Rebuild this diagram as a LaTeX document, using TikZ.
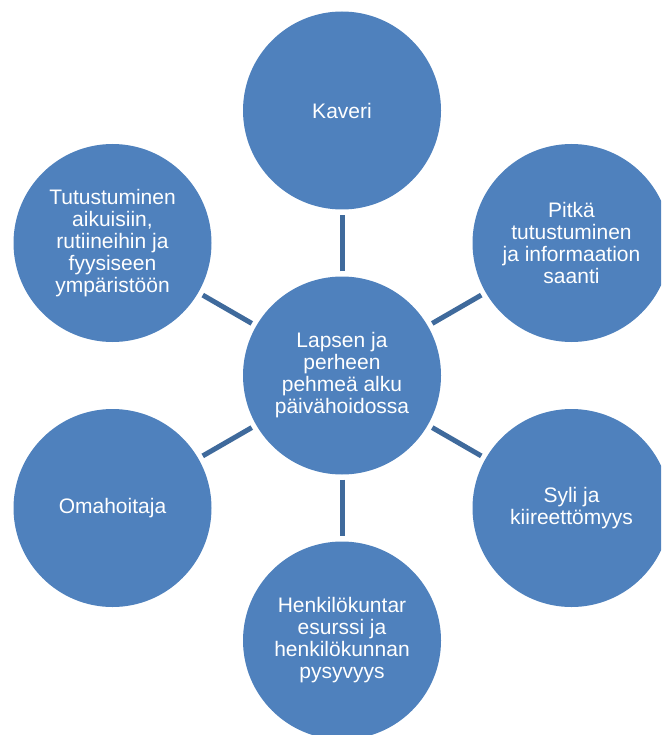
\documentclass[tikz,border=0pt]{standalone}
\usepackage{fontspec}
\setmainfont{Liberation Sans}
\definecolor{circfill}{HTML}{4F81BD}
\definecolor{linkcol}{HTML}{3F6A9C}
\begin{document}
\begin{tikzpicture}[x=1pt,y=-1pt]

\tikzstyle{v}=[circle, fill=circfill, text=white, inner sep=0pt, align=center, minimum size=198pt, font=\fontsize{21}{22}\selectfont];
\tikzstyle{e}=[draw=linkcol, line width=5pt, shorten >=5pt, shorten <=5pt];

\useasboundingbox (0,0) rectangle (661,735);
\begin{scope}
\clip (0,0) rectangle (661,735);
\node[v] (alku) at (342, 375.5) {Lapsen ja\\perheen\\pehmeä alku\\päivähoidossa};

\node[v] (kaveri) at (342, 110.5) {Kaveri};
\node[v] (pitka) at (571.5, 243) {Pitkä\\tutustuminen\\ja informaation\\saanti};
\node[v] (syli) at (571.5, 508) {Syli ja\\kiireettömyys};
\node[v] (henk) at (342, 640.5) {Henkilökuntar\\esurssi ja\\henkilökunnan\\pysyvyys};
\node[v] (oma) at (112.5, 508) {Omahoitaja};
\node[v] (tutu) at (112.5, 243) {Tutustuminen\\aikuisiin,\\rutiineihin ja\\fyysiseen\\ympäristöön};

\draw[e] (alku) -- (kaveri);
\draw[e] (alku) -- (pitka);
\draw[e] (alku) -- (syli);
\draw[e] (alku) -- (henk);
\draw[e] (alku) -- (oma);
\draw[e] (alku) -- (tutu);
\end{scope}
\end{tikzpicture}
\end{document}
